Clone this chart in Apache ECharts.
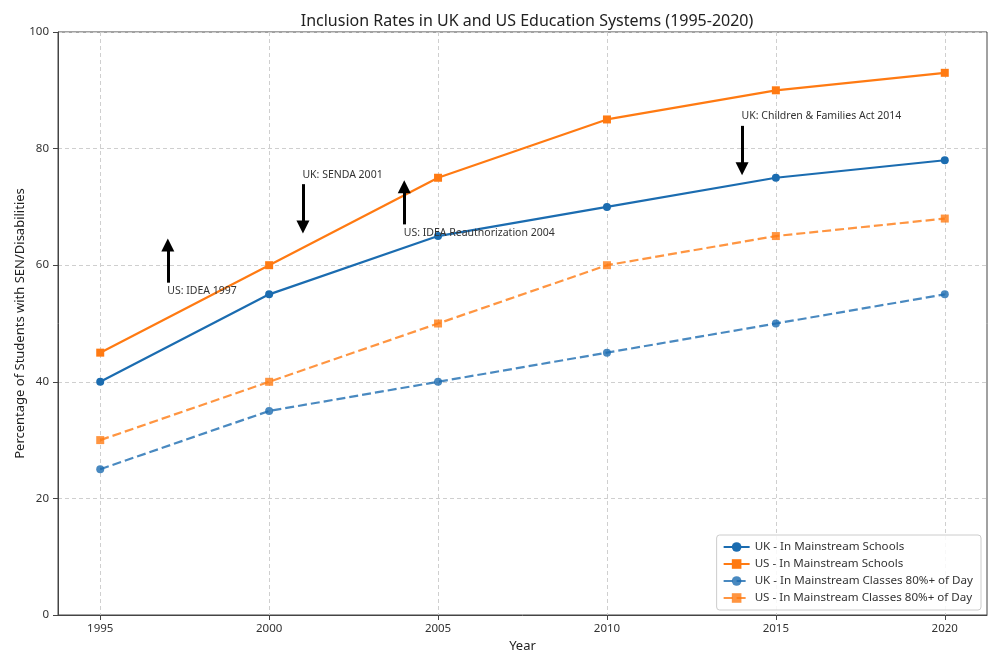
<!DOCTYPE html>
<html>
<head>
<meta charset="utf-8">
<script src="https://cdn.jsdelivr.net/npm/echarts@6/dist/echarts.min.js"></script>
<style>html,body{margin:0;padding:0;background:#fff}#c{width:1000px;height:667px}</style>
</head>
<body>
<div id="c"></div>
<script>
var years = [1995, 2000, 2005, 2010, 2015, 2020];
var ukMainstream = [40, 55, 65, 70, 75, 78];
var usMainstream = [45, 60, 75, 85, 90, 93];
var ukClasses80 = [25, 35, 40, 45, 50, 55];
var usClasses80 = [30, 40, 50, 60, 65, 68];
var seriesNames = ['UK - In Mainstream Schools', 'US - In Mainstream Schools',
  'UK - In Mainstream Classes 80%+ of Day', 'US - In Mainstream Classes 80%+ of Day'];
var xTicks = [1995, 2000, 2005, 2010, 2015, 2020];

var annoText = ['US: IDEA 1997', 'UK: SENDA 2001', 'US: IDEA Reauthorization 2004', 'UK: Children & Families Act 2014'];
var annoX = [1997, 2001, 2004, 2014];
var annoTextY = [55, 75, 65, 85];
var annoTargetY = [65, 65, 75, 75];

var FONT = 'Noto Sans';
var BLUE = '#1b6cb0', ORANGE = '#ff7a12';

function pairs(ys) { return years.map(function (y, i) { return [y, ys[i]]; }); }

var arrowLines = annoX.map(function (x, i) {
  var up = annoTargetY[i] > annoTextY[i];
  var tail = up ? annoTextY[i] + 2.0 : annoTextY[i] - 1.1;
  var tip = up ? annoTargetY[i] - 0.4 : annoTargetY[i] + 0.4;
  var head = up ? tip - 1.15 : tip + 1.15;
  return [{ coord: [x, tail] }, { coord: [x, head] }];
});

var chart = echarts.init(document.getElementById('c'), null, { renderer: 'canvas' });
chart.setOption({
  animation: false,
  backgroundColor: '#fff',
  textStyle: { fontFamily: FONT },
  title: {
    text: 'Inclusion Rates in UK and US Education Systems (1995-2020)',
    left: 522, top: 8, textAlign: 'center',
    textStyle: { fontFamily: FONT, fontSize: 16, fontWeight: 'normal', color: '#222' }
  },
  grid: { left: 58, right: 13, top: 32, bottom: 52, containLabel: false, outerBoundsMode: 'none', show: true, borderColor: '#444', borderWidth: 1, backgroundColor: 'transparent' },
  legend: {
    orient: 'vertical', right: 19, bottom: 57,
    itemWidth: 26, itemHeight: 12, itemGap: 5,
    padding: [6, 8, 6, 6],
    borderColor: '#cccccc', borderWidth: 1, borderRadius: 3,
    backgroundColor: 'rgba(255,255,255,0.85)',
    textStyle: { fontFamily: FONT, fontSize: 11.6, color: '#333' },
    data: seriesNames
  },
  xAxis: {
    type: 'value', min: 1993.75, max: 2021.25,
    name: 'Year', nameLocation: 'middle', nameGap: 25, nameMoveOverlap: false,
    nameTextStyle: { fontFamily: FONT, fontSize: 13, color: '#222' },
    axisLine: { show: true, lineStyle: { color: '#444' } },
    axisTick: { show: true, length: 5, lineStyle: { color: '#444' }, customValues: xTicks },
    axisLabel: { fontFamily: FONT, fontSize: 11.5, color: '#333', margin: 8, customValues: xTicks, formatter: function (v) { return String(v); } },
    splitLine: { show: true, lineStyle: { color: '#cfcfcf', type: [4, 3], width: 1 } }
  },
  yAxis: {
    type: 'value', min: 0, max: 100, interval: 20,
    name: 'Percentage of Students with SEN/Disabilities', nameLocation: 'middle', nameGap: 31, nameMoveOverlap: false,
    nameTextStyle: { fontFamily: FONT, fontSize: 13, color: '#222' },
    axisLine: { show: true, lineStyle: { color: '#444' } },
    axisTick: { show: true, length: 5, lineStyle: { color: '#444' } },
    axisLabel: { fontFamily: FONT, fontSize: 11.5, color: '#333', margin: 9 },
    splitLine: { show: true, lineStyle: { color: '#cfcfcf', type: [4, 3], width: 1 } }
  },
  series: [
    {
      name: seriesNames[0], type: 'line', data: pairs(ukMainstream),
      symbol: 'circle', symbolSize: 8, z: 3,
      lineStyle: { color: BLUE, width: 2.2 }, itemStyle: { color: BLUE }
    },
    {
      name: seriesNames[1], type: 'line', data: pairs(usMainstream),
      symbol: 'rect', symbolSize: 8, z: 3,
      lineStyle: { color: ORANGE, width: 2.2 }, itemStyle: { color: ORANGE }
    },
    {
      name: seriesNames[2], type: 'line', data: pairs(ukClasses80),
      symbol: 'circle', symbolSize: 8, z: 2,
      lineStyle: { color: BLUE, width: 2.2, type: [9, 4], opacity: 0.8 }, itemStyle: { color: BLUE, opacity: 0.8 }
    },
    {
      name: seriesNames[3], type: 'line', data: pairs(usClasses80),
      symbol: 'rect', symbolSize: 8, z: 2,
      lineStyle: { color: ORANGE, width: 2.2, type: [9, 4], opacity: 0.8 }, itemStyle: { color: ORANGE, opacity: 0.8 }
    },
    {
      name: 'annotations', type: 'scatter', z: 5,
      data: annoX.map(function (x, i) { return { value: [x, annoTextY[i]], name: annoText[i] }; }),
      symbolSize: 1, itemStyle: { color: 'rgba(0,0,0,0)' },
      label: {
        show: true, position: [0, 0], align: 'left', verticalAlign: 'bottom',
        formatter: function (p) { return p.name; },
        fontFamily: FONT, fontSize: 10.5, color: '#333', offset: [0, 3], opacity: 1
      },
      silent: true,
      markLine: {
        silent: true, animation: false,
        symbol: ['none', 'triangle'], symbolSize: 13,
        label: { show: false },
        lineStyle: { color: '#000', width: 3, type: 'solid', opacity: 1 },
        itemStyle: { color: '#000' },
        data: arrowLines
      }
    }
  ]
});
</script>
</body>
</html>
